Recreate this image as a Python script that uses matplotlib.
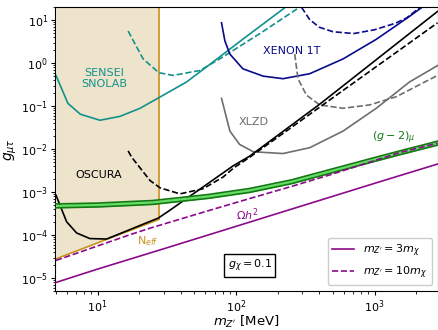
import numpy as np
import matplotlib
matplotlib.use("Agg")
import matplotlib.pyplot as plt

# ---- dados (m em MeV, g adimensional) ----
# SENSEI SNOLAB
sensei_m = [5.0, 6.1, 7.5, 10.4, 14.5, 20.2, 27.7, 43.9, 65.0, 120, 227]
sensei_g = [0.52, 0.116, 0.065, 0.047, 0.058, 0.089, 0.158, 0.366, 0.95, 4.3, 20.0]
sensei10_m = [16.6, 21.3, 27.7, 35.1, 54.7, 76.2, 150, 290]
sensei10_g = [5.6, 1.26, 0.60, 0.52, 0.676, 1.26, 5.0, 20.5]

# XENON 1T
xenon_m = [78.5, 83, 90.2, 112, 157, 218, 340, 592, 1030, 1790, 2200]
xenon_g = [8.7, 3.3, 1.63, 0.74, 0.50, 0.436, 0.569, 1.256, 3.6, 12.3, 20.0]
xenon10_m = [297, 339, 398, 501, 708, 1000, 1413, 1698, 2113]
xenon10_g = [20.0, 10.5, 6.9, 5.4, 4.9, 6.0, 8.5, 11.2, 19.5]

# XLZD
xlzd_m = [78.5, 90.2, 106, 133, 218, 340, 592, 1030, 1790, 2850]
xlzd_g = [0.152, 0.0263, 0.0129, 0.0087, 0.0079, 0.0108, 0.0263, 0.0895, 0.366, 0.88]
xlzd10_m = [265, 280, 322, 402, 592, 923, 1435, 2850]
xlzd10_g = [1.63, 0.436, 0.181, 0.107, 0.0895, 0.107, 0.166, 0.52]

# OSCURA
oscura_m = [5.0, 5.97, 7.05, 8.79, 11.6, 16.2, 20.0, 27.5, 33.3, 95, 125.6, 403, 2850]
oscura_g = [8.5e-4, 2.04e-4, 1.12e-4, 8.3e-5, 8.1e-5, 1.25e-4, 1.65e-4, 2.5e-4, 3.8e-4,
            4.07e-3, 6.9e-3, 0.112, 16.0]
oscura10_m = [16.6, 17.6, 23.9, 28.2, 39.3, 57.8, 80.5, 96.6, 125.6, 2850]
oscura10_g = [9.1e-3, 6.5e-3, 1.86e-3, 1.26e-3, 9.1e-4, 1.2e-3, 2.24e-3, 3.7e-3, 6.5e-3, 8.7]

# Omega h^2 (relic)
relic_m = [5, 10, 30, 100, 300, 1000, 2850]
relic_g = [7.9e-6, 1.62e-5, 4.8e-5, 1.6e-4, 4.8e-4, 1.6e-3, 4.5e-3]
relic10_m = [5, 17.1, 23.9, 64.9, 125.6, 244, 474, 1517, 2850]
relic10_g = [2.57e-5, 1.02e-4, 1.45e-4, 3.8e-4, 7.1e-4, 1.32e-3, 2.51e-3, 8.3e-3, 1.38e-2]

# (g-2)_mu
g2_m = [5, 10, 25, 63, 126, 251, 501, 1000, 1585, 2850]
g2_hi = [5.31e-4, 5.56e-4, 6.38e-4, 8.81e-4, 1.22e-3, 1.93e-3, 3.51e-3, 6.38e-3, 9.44e-3, 1.53e-2]
g2_lo = [4.31e-4, 4.52e-4, 5.18e-4, 7.16e-4, 9.89e-4, 1.57e-3, 2.85e-3, 5.18e-3, 7.66e-3, 1.24e-2]

# N_eff
neff_m = [5.0, 27.8]
neff_g = [2.8e-5, 2.33e-4]

# ---- cores ----
c_teal = '#12918c'
c_navy = '#0a0a8c'
c_gray = '#6e6e6e'
c_gold = '#c8921e'
c_purple = '#8b0a8b'
c_green = '#137a13'

fig = plt.figure(figsize=(4.38, 3.30), dpi=100)
ax = fig.add_axes([55/438, 39/330, 382.5/438, 283.7/330])
ax.set_xscale('log')
ax.set_yscale('log')

# região excluída por N_eff
ax.fill_between(neff_m, neff_g, [30, 30], color='#eee4cc', zorder=0, lw=0)
ax.plot(neff_m, neff_g, color=c_gold, lw=1.2)
ax.plot([neff_m[1], neff_m[1]], [neff_g[1], 30], color=c_gold, lw=1.2)

lw = 1.2
ax.plot(sensei_m, sensei_g, color=c_teal, lw=lw)
ax.plot(sensei10_m, sensei10_g, color=c_teal, lw=lw, ls='--')
ax.plot(xenon_m, xenon_g, color=c_navy, lw=lw)
ax.plot(xenon10_m, xenon10_g, color=c_navy, lw=lw, ls='--')
ax.plot(xlzd_m, xlzd_g, color=c_gray, lw=lw)
ax.plot(xlzd10_m, xlzd10_g, color=c_gray, lw=lw, ls='--')
ax.plot(oscura_m, oscura_g, color='black', lw=lw)
ax.plot(oscura10_m, oscura10_g, color='black', lw=lw, ls='--')

# banda (g-2)
ax.fill_between(g2_m, g2_lo, g2_hi, color='#66dd66', lw=0, zorder=3)
ax.plot(g2_m, g2_lo, color=c_green, lw=1.2, zorder=3)
ax.plot(g2_m, g2_hi, color=c_green, lw=1.2, zorder=3)

ax.plot(relic_m, relic_g, color=c_purple, lw=lw, label=r"$m_{Z'} = 3m_\chi$", zorder=4)
ax.plot(relic10_m, relic10_g, color=c_purple, lw=lw, ls='--', label=r"$m_{Z'} = 10m_\chi$", zorder=4)

# textos
fs = 8
ax.text(11.1, 0.436, 'SENSEI\nSNOLAB', color=c_teal, fontsize=fs, ha='center', va='center')
ax.text(10.2, 2.46e-3, 'OSCURA', color='black', fontsize=fs, ha='center', va='center')
ax.text(23.1, 7.2e-5, r'N$_{eff}$', color=c_gold, fontsize=fs, ha='center', va='center')
ax.text(251, 1.9, 'XENON 1T', color=c_navy, fontsize=fs, ha='center', va='center')
ax.text(134, 0.0425, 'XLZD', color=c_gray, fontsize=fs, ha='center', va='center')
ax.text(1380, 0.0182, r'$(g-2)_\mu$', color=c_green, fontsize=fs, ha='center', va='center')
ax.text(120, 2.97e-4, r'$\Omega h^2$', color=c_purple, fontsize=fs, ha='center', va='center')
ax.text(0.509, 0.09, r'$g_\chi = 0.1$', transform=ax.transAxes, fontsize=fs,
        ha='center', va='center',
        bbox=dict(boxstyle='square,pad=0.3', facecolor='white', edgecolor='black', lw=1))

ax.set_xlim(4.92, 2850)
ax.set_ylim(5e-6, 20)
ax.set_xlabel(r"$m_{Z'}$ [MeV]", fontsize=9.5, labelpad=-0.5)
ax.set_ylabel(r"$g_{\mu\tau}$", fontsize=10, labelpad=1)
ax.tick_params(which='major', labelsize=8, length=3, pad=2)
ax.tick_params(which='minor', length=1.8)
ax.legend(loc='lower right', fontsize=fs, framealpha=1, borderaxespad=0.5)

fig.savefig('out.png', dpi=100)
